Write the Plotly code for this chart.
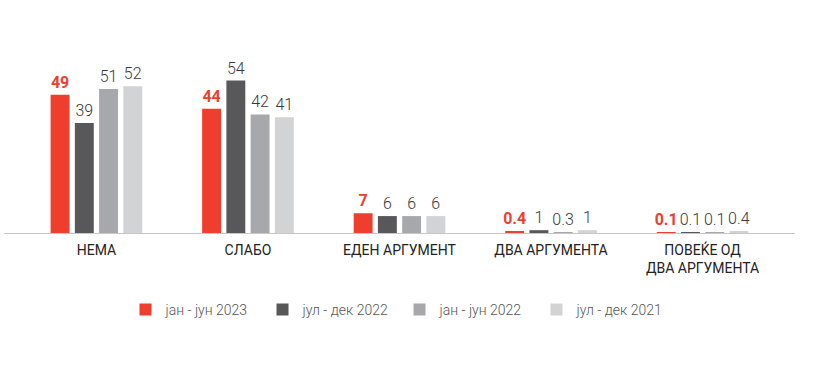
import plotly.graph_objects as go

categories = ["НЕМА", "СЛАБО", "ЕДЕН АРГУМЕНТ", "ДВА АРГУМЕНТА", "ПОВЕЌЕ ОД<br>ДВА АРГУМЕНТА"]
series_names = ["јан - јун 2023", "јул - дек 2022", "јан - јун 2022", "јул - дек 2021"]
jan_jun_2023 = [49, 44, 7, 0.4, 0.1]
jul_dec_2022 = [39, 54, 6, 1, 0.1]
jan_jun_2022 = [51, 42, 6, 0.3, 0.1]
jul_dec_2021 = [52, 41, 6, 1, 0.4]

values = [jan_jun_2023, jul_dec_2022, jan_jun_2022, jul_dec_2021]
colors = ["#EE3F2E", "#58585A", "#A7A8AB", "#D2D3D5"]

fig = go.Figure()
for i, (name, vals, col) in enumerate(zip(series_names, values, colors)):
    first = i == 0
    if first:
        tf = dict(family="Roboto", size=16, color="#EE3F2E", weight=700)
    else:
        tf = dict(family="Roboto Light, Roboto", size=16, color="#3a3a3a", weight=300)
    fig.add_trace(go.Bar(
        x=categories, y=vals, name=name,
        marker=dict(color=col, line=dict(width=0)),
        text=[f"{v:g}" for v in vals],
        textposition="outside",
        cliponaxis=False,
        constraintext="none",
        textfont=tf,
        hoverinfo="skip",
    ))

fig.update_layout(
    width=814, height=375,
    margin=dict(l=4, r=19, t=60, b=142),
    paper_bgcolor="white", plot_bgcolor="white",
    barmode="group", bargap=0.36, bargroupgap=0.22,
    font=dict(family="Roboto", color="#222"),
    showlegend=True,
    legend=dict(orientation="h", x=0.5, xanchor="center", y=-0.445, yanchor="middle",
                font=dict(family="Roboto Light, Roboto", size=14, color="#555", weight=300),
                entrywidth=92, entrywidthmode="pixels", itemwidth=30,
                traceorder="normal"),
    xaxis=dict(range=[-0.61, 4.61], showline=True, linecolor="#c8c8c8", linewidth=1,
               ticks="", showgrid=False, zeroline=False, ticklabelstandoff=4,
               tickfont=dict(family="Roboto", size=14, color="#222")),
    yaxis=dict(range=[0, 61.3], visible=False, showgrid=False, zeroline=False),
)

fig.write_html("out.html", config={"displayModeBar": False},
               post_script="document.body.style.margin='0';")
